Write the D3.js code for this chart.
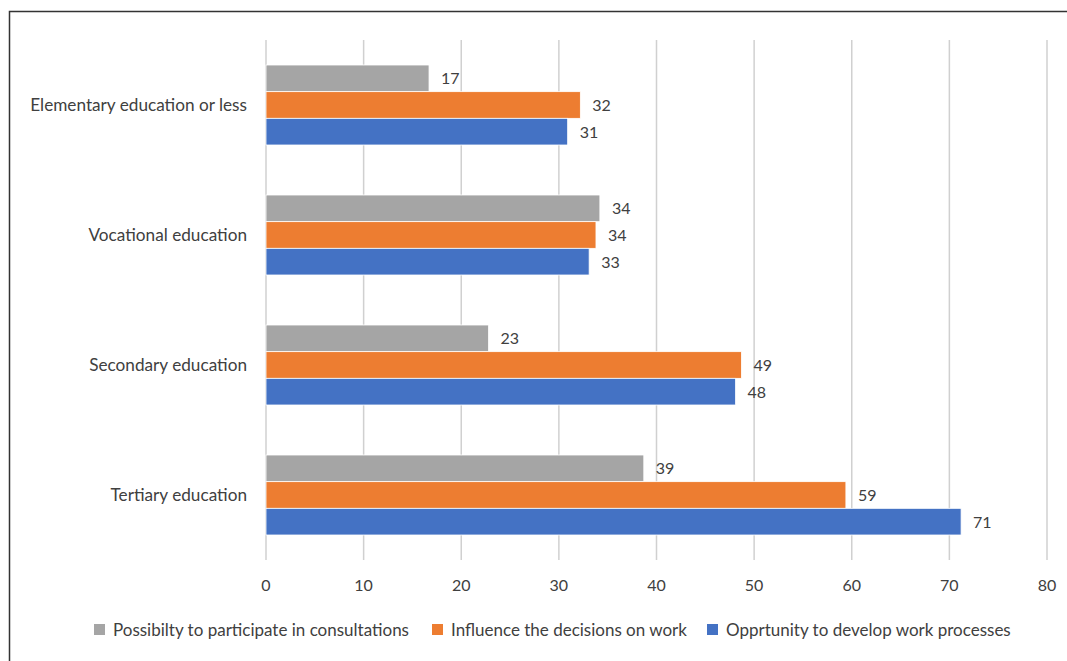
<!DOCTYPE html>
<html>
<head>
<meta charset="utf-8">
<script src="https://cdn.jsdelivr.net/npm/d3@7"></script>
<style>
  body { margin: 0; background: #fff; }
  text { font-family: Lato, "Open Sans", sans-serif; fill: #404040; }
</style>
</head>
<body>
<script>
//categories, top to bottom
var categories = ["Elementary education or less", "Vocational education", "Secondary education", "Tertiary education"];
var seriesNames = ["Possibilty to participate in consultations", "Influence the decisions on work", "Opprtunity to develop work processes"];
var seriesColors = ["#a5a5a5", "#ed7d31", "#4472c4"];
//values per series, same order as categories
var consultations = [16.7, 34.2, 22.8, 38.7];
var influence = [32.2, 33.8, 48.7, 59.4];
var develop = [30.9, 33.1, 48.1, 71.2];
var xTicks = [0, 10, 20, 30, 40, 50, 60, 70, 80];

var width = 1067, height = 661;
var svg = d3.select("body").append("svg")
    .attr("width", width)
    .attr("height", height);

//outer frame
svg.append("rect")
    .attr("x", 9.5).attr("y", 11.5)
    .attr("width", width + 20).attr("height", height + 20)
    .attr("fill", "none")
    .attr("stroke", "#333")
    .attr("stroke-width", 1.5);

var x = d3.scaleLinear().domain([0, 80]).range([266, 1047]);
var y = d3.scaleBand().domain(categories).range([40, 560])
    .paddingInner(0.3846).paddingOuter(0.1923);
var ySeries = d3.scaleBand().domain(seriesNames).range([0, y.bandwidth()]);

//gridlines
svg.selectAll(".grid")
    .data(xTicks)
    .enter().append("line")
    .attr("class", "grid")
    .attr("x1", function(d){ return x(d); })
    .attr("x2", function(d){ return x(d); })
    .attr("y1", 40).attr("y2", 560)
    .attr("stroke", "#d0d0d0")
    .attr("stroke-width", 1.5);

//tick labels
svg.selectAll(".tick-label")
    .data(xTicks)
    .enter().append("text")
    .attr("class", "tick-label")
    .attr("x", function(d){ return x(d); })
    .attr("y", 591)
    .attr("text-anchor", "middle")
    .style("font-size", "16px")
    .text(function(d){ return d; });

//category labels
svg.selectAll(".cat-label")
    .data(categories)
    .enter().append("text")
    .attr("class", "cat-label")
    .attr("x", 247)
    .attr("y", function(d){ return y(d) + y.bandwidth() / 2 + 6; })
    .attr("text-anchor", "end")
    .style("font-size", "17.2px")
    .text(function(d){ return d; });

var series = [consultations, influence, develop];
var fmt = d3.format(".0f");

series.forEach(function(vals, si){
    var rows = categories.map(function(c, i){ return {cat: c, value: vals[i]}; });
    svg.selectAll(".bar-" + si)
        .data(rows)
        .enter().append("rect")
        .attr("class", "bar-" + si)
        .attr("x", x(0))
        .attr("y", function(d){ return y(d.cat) + ySeries(seriesNames[si]); })
        .attr("width", function(d){ return x(d.value) - x(0); })
        .attr("height", ySeries.bandwidth())
        .attr("fill", seriesColors[si])
        .attr("stroke", "#fff")
        .attr("stroke-width", 0.8);

    svg.selectAll(".val-" + si)
        .data(rows)
        .enter().append("text")
        .attr("class", "val-" + si)
        .attr("x", function(d){ return x(d.value) + 12; })
        .attr("y", function(d){ return y(d.cat) + ySeries(seriesNames[si]) + ySeries.bandwidth() / 2 + 6; })
        .style("font-size", "16px")
        .text(function(d){ return fmt(d.value); });
});

//legend
var legendX = [94, 432, 707];
var legend = svg.selectAll(".legend")
    .data(seriesNames)
    .enter().append("g")
    .attr("class", "legend")
    .attr("transform", function(d, i){ return "translate(" + legendX[i] + ",629.5)"; });
legend.append("rect")
    .attr("x", 0).attr("y", -5.5)
    .attr("width", 11).attr("height", 11)
    .attr("fill", function(d, i){ return seriesColors[i]; });
legend.append("text")
    .attr("x", 19).attr("y", 6)
    .style("font-size", "17px")
    .text(function(d){ return d; });
</script>
</body>
</html>
